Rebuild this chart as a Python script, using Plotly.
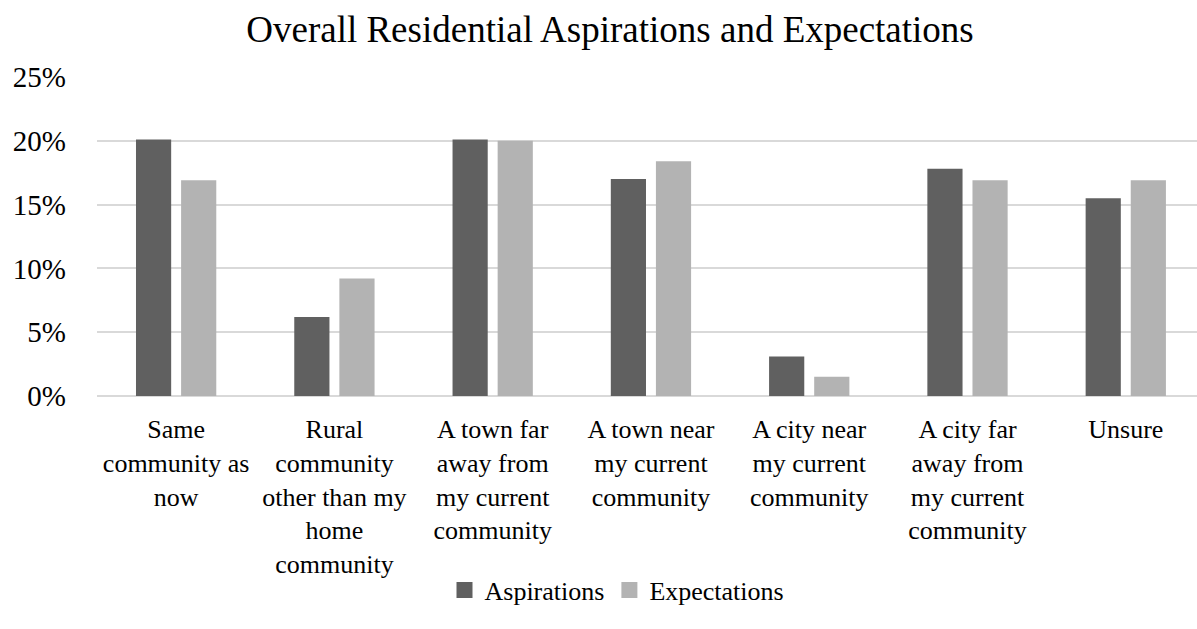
import plotly.graph_objects as go

categories = [
    "Same<br>community as<br>now",
    "Rural<br>community<br>other than my<br>home<br>community",
    "A town far<br>away from<br>my current<br>community",
    "A town near<br>my current<br>community",
    "A city near<br>my current<br>community",
    "A city far<br>away from<br>my current<br>community",
    "Unsure",
]
aspirations = [0.201, 0.062, 0.201, 0.170, 0.031, 0.178, 0.155]
expectations = [0.169, 0.092, 0.200, 0.184, 0.015, 0.169, 0.169]
ytick_vals = [0, 0.05, 0.10, 0.15, 0.20, 0.25]
ytick_text = ["0%", "5%", "10%", "15%", "20%", "25%"]
series_names = ["Aspirations", "Expectations"]
series_colors = ["#606060", "#b3b3b3"]

FONT = "Liberation Serif, Times New Roman, serif"
W, H = 1197, 629
L, T, B = 97, 77, 233

fig = go.Figure()
for name, vals, col in zip(series_names, [aspirations, expectations], series_colors):
    fig.add_trace(go.Bar(name=name, x=categories, y=vals, showlegend=False,
                         marker=dict(color=col, line=dict(width=0))))
# legend proxies with larger square symbols
for name, col in zip(series_names, series_colors):
    fig.add_trace(go.Scatter(name=name, x=[None], y=[None], mode="markers",
                             marker=dict(symbol="square", size=16, color=col),
                             showlegend=True))

fig.update_layout(
    width=W, height=H,
    margin=dict(l=L, r=0, t=T, b=B, pad=0),
    paper_bgcolor="white", plot_bgcolor="white",
    barmode="group", bargap=0.43, bargroupgap=0.22,
    font=dict(family=FONT, color="#000000"),
    title=dict(text="Overall Residential Aspirations and Expectations",
               x=610 / W, xref="container", xanchor="center",
               y=1 - 29 / H, yref="container", yanchor="middle",
               font=dict(family=FONT, size=37, color="#000000")),
    showlegend=True,
    legend=dict(orientation="h", x=(617 - L) / (W - L), xanchor="center",
                y=-(590 - 396) / (396 - T), yanchor="middle",
                font=dict(family=FONT, size=26, color="#000000"),
                itemwidth=30, tracegroupgap=0, itemsizing="trace"),
)
fig.update_xaxes(
    type="category", range=[-0.5, 6.45],
    showgrid=False, showline=False, zeroline=False, ticks="",
    tickfont=dict(family=FONT, size=26, color="#000000"),
    tickangle=0, ticklabelstandoff=15,
)
fig.update_yaxes(
    range=[0, 0.25], tickvals=ytick_vals, ticktext=ytick_text,
    showgrid=True, gridcolor="#d9d9d9", gridwidth=2,
    zeroline=True, zerolinecolor="#d9d9d9", zerolinewidth=2,
    showline=False, ticks="",
    tickfont=dict(family=FONT, size=29, color="#000000"),
    ticklabelstandoff=30,
)
fig.write_html("out.html")
